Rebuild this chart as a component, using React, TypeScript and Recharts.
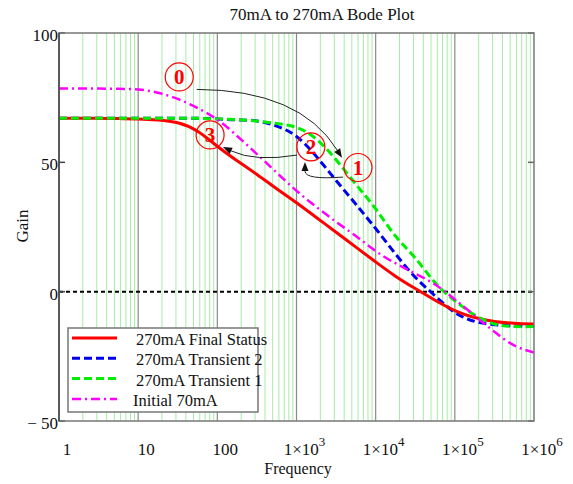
import React from 'react';
import { LineChart, Line, XAxis, YAxis, ReferenceLine } from 'recharts';

// Bode plot: gain vs frequency, four operating states

const freqs = [
  1, 1.778, 3.162, 5.623, 10, 17.78, 31.62, 56.23, 100, 177.8, 316.2, 562.3,
  1000, 1778, 3162, 5623, 10000, 17783, 31623, 56234, 100000, 177828, 316228,
  562341, 1000000,
];
const finalStatus = [
  67, 67, 67, 66.9, 66.8, 66.4, 65.3, 62, 56.2, 50.6, 45.3, 39.8, 34.4, 28.7, 23,
  17.2, 11.5, 6, 1.2, -3.3, -7.3, -10, -11.5, -12.2, -12.5,
];
const transient2 = [
  67, 67, 67, 67, 67, 67, 67, 67, 66.8, 66.4, 66, 64, 60, 52.3, 43, 33.8, 24.4,
  14.6, 5.6, -1.6, -8, -11.5, -12.8, -13.2, -13.3,
];
const transient1 = [
  67, 67, 67, 67, 67, 67, 67, 67, 66.8, 66.5, 66, 65, 63.5, 59, 51, 41.5, 32,
  21.5, 13, 3.5, -3.5, -9, -12.5, -13.5, -13.5,
];
const initial70 = [
  78.5, 78.5, 78.5, 78.4, 78.2, 76.9, 74.5, 71, 66.5, 60.2, 53.2, 46, 39, 32.8,
  27, 21.5, 15.7, 11, 7, 2.8, -3, -9.3, -15.5, -20.8, -23.5,
];

const decadeTicks = [1, 10, 100, 1000, 10000, 100000, 1000000];
const gainTicks = [-50, 0, 50, 100];
const mantissas = [2, 3, 4, 5, 6, 7, 8, 9];

const series = [
  { key: 'final', name: '270mA Final Status', color: '#ff0000', dash: undefined, width: 3 },
  { key: 't2', name: '270mA Transient 2', color: '#0000ee', dash: '8 4', width: 3 },
  { key: 't1', name: '270mA Transient 1', color: '#00ee00', dash: '8 4', width: 3 },
  { key: 'init', name: 'Initial 70mA', color: '#ff00ff', dash: '9 4 2 4', width: 2.5 },
];

// state markers and the arrows between them, in (frequency, gain)
const markers = [
  { label: '0', f: 33, g: 83 },
  { label: '3', f: 81, g: 60.6 },
  { label: '2', f: 1520, g: 56 },
  { label: '1', f: 5980, g: 48 },
];
const arrows = [
  { from: [55, 78.2], ctrl: [1100, 78], to: [3750, 51.8] },
  { from: [3865, 44.3], ctrl: [1280, 43.2], to: [1280, 50.1] },
  { from: [1014, 52.8], ctrl: [299, 50.1], to: [118, 55.9] },
];

const rows = freqs.map((f, i) => ({
  f,
  final: finalStatus[i],
  t2: transient2[i],
  t1: transient1[i],
  init: initial70[i],
}));

const minorGrid: number[] = [];
decadeTicks.slice(0, 6).forEach((d) => mantissas.forEach((m) => minorGrid.push(m * d)));

const W = 573;
const H = 484;
const L = 59;
const R = 534;
const T = 33;
const B = 421;
const FONT = "'Liberation Serif', 'Times New Roman', serif";

const px = (f: number) => L + ((R - L) * Math.log10(f)) / 6;
const py = (g: number) => T + ((B - T) * (100 - g)) / 150;

function FreqTick({ x, payload }: any) {
  const v = payload.value as number;
  const e = Math.round(Math.log10(v));
  const tx = x + 8;
  const ty = B + 34;
  if (e < 3) {
    return (
      <text x={tx} y={ty} textAnchor="middle" fontFamily={FONT} fontSize={17} fill="#111">
        {String(v)}
      </text>
    );
  }
  return (
    <text x={tx} y={ty} textAnchor="middle" fontFamily={FONT} fontSize={17} fill="#111">
      <tspan>1×10</tspan>
      <tspan dy={-9} fontSize={13}>{e}</tspan>
    </text>
  );
}

function GainTick({ y, payload }: any) {
  const v = payload.value as number;
  const label = v < 0 ? `− ${Math.abs(v)}` : String(v);
  return (
    <g>
      <line x1={L} x2={L + 6} y1={y} y2={y} stroke="#444" strokeWidth={1.5} />
      <line x1={R - 6} x2={R} y1={y} y2={y} stroke="#666" strokeWidth={1.5} />
      <text x={L - 1} y={y + 8} textAnchor="end" fontFamily={FONT} fontSize={17} fill="#111">
        {label}
      </text>
    </g>
  );
}

function Overlay() {
  return (
    <svg
      width={W}
      height={H}
      style={{ position: 'absolute', left: 0, top: 0, pointerEvents: 'none' }}
    >
      <text x={322} y={20} textAnchor="middle" fontFamily={FONT} fontSize={17} fill="#111">
        70mA to 270mA Bode Plot
      </text>
      <text
        x={28}
        y={226}
        transform="rotate(-90 28 226)"
        textAnchor="middle"
        fontFamily={FONT}
        fontSize={17}
        fill="#111"
      >
        Gain
      </text>
      <text x={298} y={474} textAnchor="middle" fontFamily={FONT} fontSize={16} fill="#111">
        Frequency
      </text>

      {/* plot frame */}
      <rect x={L} y={T} width={R - L} height={B - T} fill="none" stroke="#777" strokeWidth={1.5} />
      <line x1={L} x2={L} y1={T} y2={B} stroke="#444" strokeWidth={1.5} />

      {/* arrows */}
      {arrows.map((a, i) => {
        const x0 = px(a.from[0]);
        const y0 = py(a.from[1]);
        const cx = px(a.ctrl[0]);
        const cy = py(a.ctrl[1]);
        const x1 = px(a.to[0]);
        const y1 = py(a.to[1]);
        const dx = x1 - cx;
        const dy = y1 - cy;
        const len = Math.hypot(dx, dy) || 1;
        const ux = dx / len;
        const uy = dy / len;
        const bx = x1 - ux * 9;
        const by = y1 - uy * 9;
        const head = `${x1},${y1} ${bx - uy * 3.5},${by + ux * 3.5} ${bx + uy * 3.5},${by - ux * 3.5}`;
        return (
          <g key={i}>
            <path d={`M${x0},${y0} Q${cx},${cy} ${bx},${by}`} fill="none" stroke="#222" strokeWidth={1} />
            <polygon points={head} fill="#111" />
          </g>
        );
      })}

      {/* state markers */}
      {markers.map((m) => (
        <g key={m.label}>
          <circle cx={px(m.f)} cy={py(m.g)} r={14} fill="none" stroke="#ff0000" strokeWidth={1.2} />
          <text
            x={px(m.f)}
            y={py(m.g) + 7.5}
            textAnchor="middle"
            fontFamily={FONT}
            fontWeight="bold"
            fontSize={21}
            fill="#ff0000"
          >
            {m.label}
          </text>
        </g>
      ))}

      {/* legend */}
      <rect x={68} y={328} width={190} height={84} fill="#fff" stroke="#777" strokeWidth={1.5} />
      {series.map((s, i) => {
        const y = 338 + i * 20.3;
        return (
          <g key={s.key}>
            <line
              x1={72}
              x2={117}
              y1={y}
              y2={y}
              stroke={s.color}
              strokeWidth={s.width}
              strokeDasharray={s.dash}
            />
            <text x={i === 3 ? 133 : 136} y={y + 7} fontFamily={FONT} fontSize={16.5} fill="#111">
              {s.name}
            </text>
          </g>
        );
      })}
    </svg>
  );
}

export default function App() {
  const order = [series[1], series[0], series[2], series[3]];
  return (
    <div style={{ position: 'absolute', left: 0, top: 0, width: W, height: H, background: '#fff' }}>
      <LineChart
        width={W}
        height={H}
        data={rows}
        margin={{ top: T, right: W - R, left: 0, bottom: 0 }}
      >
        <XAxis
          dataKey="f"
          type="number"
          scale="log"
          domain={[1, 1000000]}
          ticks={decadeTicks}
          allowDataOverflow
          height={H - B}
          axisLine={false}
          tickLine={false}
          tick={<FreqTick />}
          interval={0}
        />
        <YAxis
          type="number"
          domain={[-50, 100]}
          ticks={gainTicks}
          width={L}
          axisLine={false}
          tickLine={false}
          tick={<GainTick />}
          interval={0}
        />
        {minorGrid.map((v) => (
          <ReferenceLine key={`m${v}`} x={v} stroke="#a6eca6" strokeWidth={1} zIndex={-60} />
        ))}
        {decadeTicks.slice(1, 6).map((v) => (
          <ReferenceLine key={`d${v}`} x={v} stroke="#8a8a8a" strokeWidth={1.2} zIndex={-50} />
        ))}
        <ReferenceLine y={0} stroke="#000" strokeWidth={2} strokeDasharray="4 3" />
        {order.map((s) => (
          <Line
            key={s.key}
            dataKey={s.key}
            name={s.name}
            type="natural"
            stroke={s.color}
            strokeWidth={s.width}
            strokeDasharray={s.dash}
            dot={false}
            activeDot={false}
            isAnimationActive={false}
          />
        ))}
      </LineChart>
      <Overlay />
    </div>
  );
}
